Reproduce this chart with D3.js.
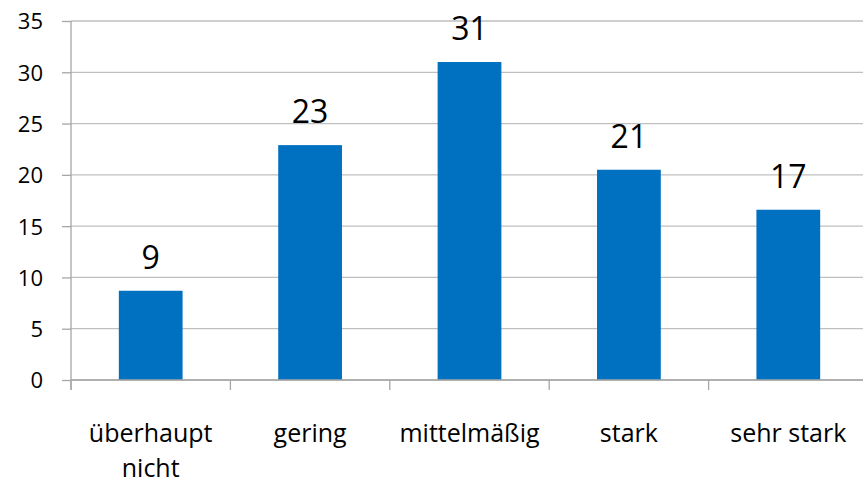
<!DOCTYPE html>
<html>
<head>
<meta charset="utf-8">
<script src="https://cdn.jsdelivr.net/npm/d3@7"></script>
<style>
  body { margin: 0; background: #fff; }
  text { font-family: "Open Sans", "Liberation Sans", sans-serif; fill: #000; }
</style>
</head>
<body>
<div id="chart"></div>
<script>
var categories = ["überhaupt nicht", "gering", "mittelmäßig", "stark", "sehr stark"];
var values = [8.7, 22.9, 31, 20.5, 16.6];
var valueLabels = ["9", "23", "31", "21", "17"];
var yTicks = [0, 5, 10, 15, 20, 25, 30, 35];

var wdth = 863, hght = 484;
var margin = {top: 21, right: -5, bottom: 104, left: 71},
    width = wdth - margin.left - margin.right,
    height = hght - margin.top - margin.bottom;

var svg = d3.select("#chart")
  .append("svg")
    .attr("width", wdth)
    .attr("height", hght)
  .append("g")
    .attr("transform", "translate(" + margin.left + "," + margin.top + ")");

var x = d3.scaleBand()
  .domain(categories)
  .range([0, width])
  .paddingInner(0.6)
  .paddingOuter(0.3);

var y = d3.scaleLinear()
  .domain([0, 35])
  .range([height, 0]);

// gridlines
svg.append("g")
  .selectAll("line")
  .data(yTicks)
  .enter()
  .append("line")
    .attr("x1", 0)
    .attr("x2", width)
    .attr("y1", function(d){ return y(d) })
    .attr("y2", function(d){ return y(d) })
    .attr("stroke", "#bfbfbf")
    .attr("stroke-width", 1.3);

// y axis
var yAxis = svg.append("g")
  .call(d3.axisLeft(y).tickValues(yTicks).tickSize(9).tickPadding(19));
yAxis.select(".domain").attr("stroke", "#a6a6a6").attr("stroke-width", 1.3)
  .attr("d", "M0," + (height + 10) + "V0");
yAxis.selectAll(".tick line").attr("stroke", "#a6a6a6").attr("stroke-width", 1.3);
yAxis.selectAll(".tick text").style("font-size", "22px").attr("dy", "0.36em");

// bars
svg.selectAll(".myBars")
  .data(values)
  .enter()
  .append("rect")
    .attr("x", function(d, i){ return x(categories[i]) })
    .attr("y", function(d){ return y(d) })
    .attr("width", x.bandwidth())
    .attr("height", function(d){ return height - y(d) })
    .attr("fill", "#0070c0");

// x axis
var step = width / categories.length;
var xAxis = svg.append("g")
  .attr("transform", "translate(0," + height + ")");
xAxis.append("line")
  .attr("x1", 0).attr("x2", width)
  .attr("stroke", "#a6a6a6").attr("stroke-width", 1.3);
xAxis.selectAll(".xtick")
  .data(d3.range(categories.length + 1))
  .enter()
  .append("line")
    .attr("x1", function(d){ return d * step })
    .attr("x2", function(d){ return d * step })
    .attr("y1", 0).attr("y2", 10)
    .attr("stroke", "#a6a6a6").attr("stroke-width", 1.3);

var catText = xAxis.selectAll(".cat")
  .data(categories)
  .enter()
  .append("text")
    .attr("text-anchor", "middle")
    .attr("x", function(d){ return x(d) + x.bandwidth() / 2 })
    .attr("y", 62)
    .style("font-size", "25px");
catText.each(function(d){
  var words = d.split(" ");
  var t = d3.select(this);
  if (d == "überhaupt nicht") {
    t.append("tspan").attr("x", t.attr("x")).text(words[0]);
    t.append("tspan").attr("x", t.attr("x")).attr("dy", 35).text(words[1]);
  } else {
    t.text(d);
  }
});

// value labels
svg.selectAll(".myTexts")
  .data(values)
  .enter()
  .append("text")
    .attr("text-anchor", "middle")
    .attr("x", function(d, i){ return x(categories[i]) + x.bandwidth() / 2 })
    .attr("y", function(d){ return y(d) - 22 })
    .style("font-size", "32px")
    .text(function(d, i){ return valueLabels[i] });
</script>
</body>
</html>
